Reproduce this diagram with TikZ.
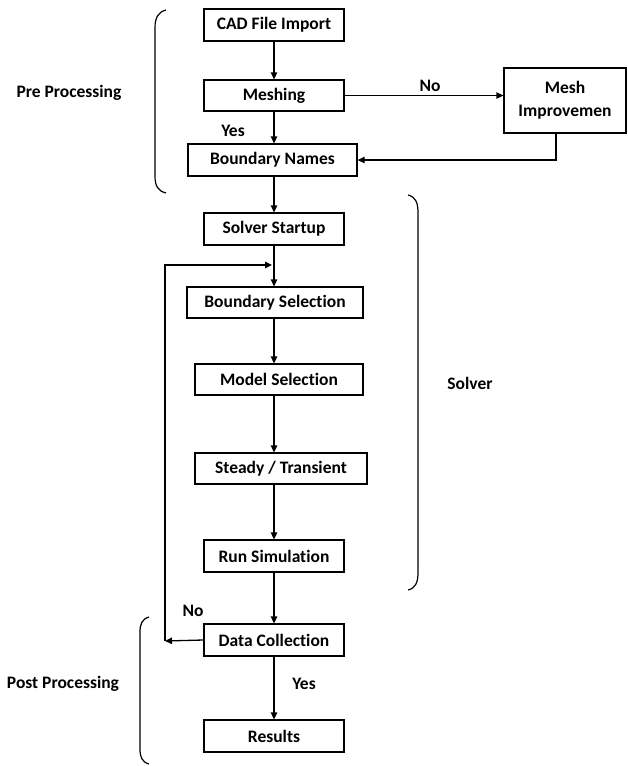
\documentclass[tikz,border=0pt]{standalone}
\usepackage{fontspec}
\setmainfont{Carlito}[Ligatures=NoCommon]
\usetikzlibrary{arrows.meta,calc}
\begin{document}
\begin{tikzpicture}[x=1pt,y=-1pt,
  box/.style={draw,line width=1.3pt,rectangle,inner sep=0pt,align=center,
    font=\fontsize{17.5}{20}\selectfont\bfseries},
  lbl/.style={inner sep=0pt,font=\fontsize{17.5}{20}\selectfont\bfseries},
  arr/.style={line width=1.3pt,-{Triangle[length=7pt,width=6.5pt]}},
  brace/.style={line width=1.2pt}]
\useasboundingbox (0,0) rectangle (627,766);
\node[box,minimum width=140,minimum height=32] (cad) at (274,25) {CAD File Import};
\node[box,minimum width=140,minimum height=31] (mesh) at (274,95.5) {Meshing};
\node[box,minimum width=169,minimum height=32] (bn) at (272.5,160) {Boundary Names};
\node[box,minimum width=122,minimum height=65] (mi) at (565,100.5) {Mesh\\[3pt]Improvemen};
\node[box,minimum width=140,minimum height=32] (ss) at (274,229) {Solver Startup};
\node[box,minimum width=176,minimum height=31] (bs) at (275,302.5) {Boundary Selection};
\node[box,minimum width=168,minimum height=31] (ms) at (279,379.5) {Model Selection};
\node[box,minimum width=172,minimum height=31] (st) at (281,468.5) {Steady / Transient};
\node[box,minimum width=140,minimum height=32] (rs) at (274,556) {Run Simulation};
\node[box,minimum width=140,minimum height=32] (dc) at (274,640) {Data Collection};
\node[box,minimum width=140,minimum height=32] (res) at (274,736) {Results};

\node[lbl] (pre) at (69,93) {Pre Processing};
\node[lbl] (solv) at (470,383) {Solver};
\node[lbl] (post) at (63,684) {Post Processing};
\node[lbl] (yes1) at (233,131) {Yes};
\node[lbl] (no1) at (430,86) {No};
\node[lbl] (no2) at (193,611) {No};
\node[lbl] (yes2) at (304,684) {Yes};

\coordinate (c1) at (165,641);
\coordinate (c2) at (272,265);
\coordinate (mb) at (556,0);

\draw[arr] (cad.south -| cad) -- (mesh.north -| cad);
\draw[arr] (mesh.south -| cad) -- (bn.north -| cad);
\draw[arr] (bn.south -| cad) -- (ss.north -| cad);
\draw[arr] (ss.south -| cad) -- (bs.north -| cad);
\draw[arr] (bs.south -| cad) -- (ms.north -| cad);
\draw[arr] (ms.south -| cad) -- (st.north -| cad);
\draw[arr] (st.south -| cad) -- (rs.north -| cad);
\draw[arr] (rs.south -| cad) -- (dc.north -| cad);
\draw[arr] (dc.south -| cad) -- (res.north -| cad);
\draw[arr] (mesh.east) -- (mesh.east -| mi.west);
\draw[arr] (mi.south -| mb) |- (bn.east);
\draw[arr] (dc.west) -- (c1);
\draw[arr] (c1) |- (c2);

\draw[brace] (166,10) .. controls (158,12) and (155,18) .. (155,28) -- (155,176)
  .. controls (155,186) and (158,191) .. (166,193);
\draw[brace] (408,195) .. controls (416,197) and (418,203) .. (418,213) -- (418,572)
  .. controls (418,582) and (416,588) .. (408,590);
\draw[brace] (149,617) .. controls (142,619) and (140,624) .. (140,632) -- (140,749)
  .. controls (140,757) and (142,762) .. (149,764);
\end{tikzpicture}
\end{document}
